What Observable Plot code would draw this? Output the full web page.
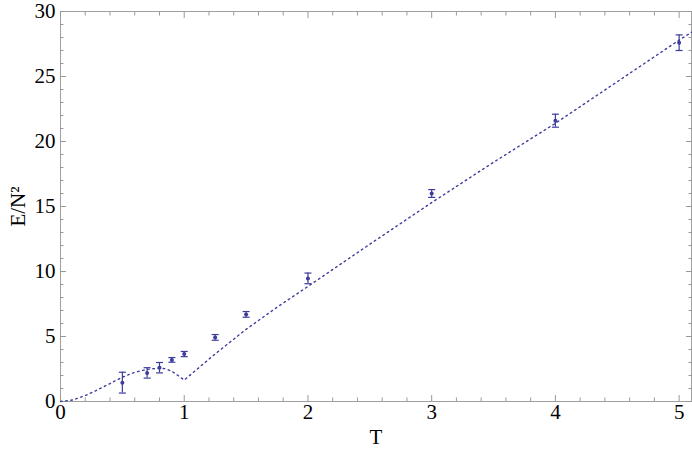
<!DOCTYPE html>
<html>
<head>
<meta charset="utf-8">
<script src="https://cdn.jsdelivr.net/npm/d3@7"></script>
<script src="https://cdn.jsdelivr.net/npm/@observablehq/plot@0.6"></script>
<style>
  html, body { margin: 0; padding: 0; background: #fff; }
  #chart svg { display: block; }
  #chart svg text { font-family: "Liberation Serif", serif; }
</style>
</head>
<body>
<div id="chart"></div>
<script>
// Monte Carlo data points
const tData = [0.5, 0.7, 0.8, 0.9, 1.0, 1.25, 1.5, 2, 3, 4, 5];
const eData = [1.45, 2.2, 2.6, 3.2, 3.65, 4.93, 6.7, 9.47, 16.0, 21.6, 27.6];
const eErr  = [0.8, 0.4, 0.4, 0.18, 0.2, 0.22, 0.22, 0.41, 0.3, 0.5, 0.6];

// theory curve (dotted)
const tCurve = [0, 0.1, 0.2, 0.3, 0.4, 0.5, 0.6, 0.7, 0.8, 0.85, 0.9, 0.95, 1.0, 1.25, 1.5, 1.75, 2, 2.5, 3, 3.5, 4, 4.5, 5, 5.1];
const eCurve = [0, 0.12, 0.45, 0.9, 1.38, 1.87, 2.25, 2.47, 2.57, 2.52, 2.32, 2.0, 1.65, 3.66, 5.55, 7.25, 8.85, 12.1, 15.3, 18.4, 21.4, 24.6, 27.8, 28.4];

// tick values
const xMajor = [0, 1, 2, 3, 4, 5];
const xMinor = d3.range(0, 26).map(i => +(i * 0.2).toFixed(1)).filter(v => !xMajor.includes(v));
const yMajor = [0, 5, 10, 15, 20, 25, 30];
const yMinor = d3.range(0, 31).filter(v => v % 5 !== 0);

const points = tData.map((t, i) => ({T: t, E: eData[i], lo: eData[i] - eErr[i], hi: eData[i] + eErr[i]}));
const theory = tCurve.map((t, i) => ({T: t, E: eCurve[i]}));

const col = "#3c3c9c";
const tickCol = "#999";
const cap = {draw(ctx, size) { ctx.moveTo(-3.5, 0); ctx.lineTo(3.5, 0); }};
const blank = () => "";

const chart = Plot.plot({
  width: 692,
  height: 456,
  marginLeft: 60,
  marginRight: 1,
  marginTop: 11,
  marginBottom: 55,
  style: {fontFamily: "'Liberation Serif', serif", fontSize: "20px", overflow: "visible"},
  x: {domain: [0, 5.1]},
  y: {domain: [0, 30]},
  marks: [
    Plot.frame({stroke: "#a0a0a0"}),
    // tick labels and axis titles
    Plot.axisX({ticks: xMajor, tickSize: 0, tickPadding: 3, tickFormat: d3.format("d"), label: "T", labelArrow: "none", labelAnchor: "center", labelOffset: 42, fontSize: 21}),
    Plot.axisY({ticks: yMajor, tickSize: 0, tickPadding: 5, tickFormat: d3.format("d"), label: "E/N²", labelArrow: "none", labelAnchor: "center", labelOffset: 50, fontSize: 21}),
    // inward ticks on all sides
    Plot.axisX({ticks: xMajor, tickSize: -6, tickFormat: blank, label: null, stroke: tickCol}),
    Plot.axisX({ticks: xMinor, tickSize: -3.5, tickFormat: blank, label: null, stroke: tickCol}),
    Plot.axisX({anchor: "top", ticks: xMajor, tickSize: -6, tickFormat: blank, label: null, stroke: tickCol}),
    Plot.axisX({anchor: "top", ticks: xMinor, tickSize: -3.5, tickFormat: blank, label: null, stroke: tickCol}),
    Plot.axisY({ticks: yMajor, tickSize: -6, tickFormat: blank, label: null, stroke: tickCol}),
    Plot.axisY({ticks: yMinor, tickSize: -3.5, tickFormat: blank, label: null, stroke: tickCol}),
    Plot.axisY({anchor: "right", ticks: yMajor, tickSize: -6, tickFormat: blank, label: null, stroke: tickCol}),
    Plot.axisY({anchor: "right", ticks: yMinor, tickSize: -3.5, tickFormat: blank, label: null, stroke: tickCol}),
    // theory curve
    Plot.line(theory, {x: "T", y: "E", stroke: col, strokeWidth: 1.4, strokeDasharray: "1.6,3.6"}),
    // error bars
    Plot.ruleX(points, {x: "T", y1: "lo", y2: "hi", stroke: col, strokeWidth: 1.2}),
    Plot.dot(points, {x: "T", y: "lo", symbol: cap, stroke: col, strokeWidth: 1.2, r: 3}),
    Plot.dot(points, {x: "T", y: "hi", symbol: cap, stroke: col, strokeWidth: 1.2, r: 3}),
    Plot.dot(points, {x: "T", y: "E", r: 2, fill: col, stroke: "none"})
  ]
});
document.getElementById("chart").appendChild(chart);
</script>
</body>
</html>
